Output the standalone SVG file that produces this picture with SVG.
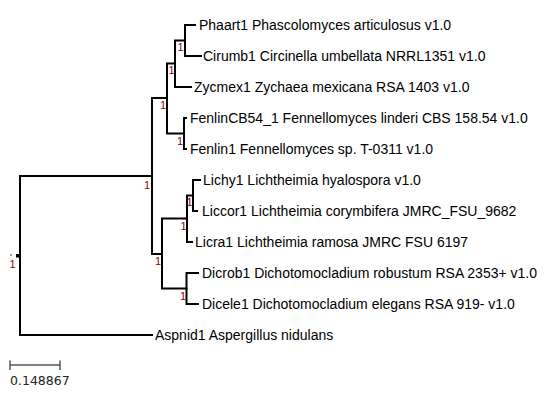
<svg xmlns="http://www.w3.org/2000/svg" width="544" height="411" viewBox="0 0 544 411">
<style>
.e{fill:none;stroke:#000;stroke-width:2;stroke-linecap:square}
.lf{font-family:"Liberation Sans",Arial,sans-serif;font-size:14px;fill:#000}
.bs{font-family:"Liberation Sans",Arial,sans-serif;font-size:11px;fill:#8b0000;text-anchor:end}
.sc{font-family:"DejaVu Sans",sans-serif;font-size:12.5px;fill:#222}
</style>
<rect width="544" height="411" fill="#fff"/>
<g id="connectors">
<path class="e" d="M20,176V335M20,176H152M20,335H152"/>
<path class="e" d="M152,98V254M152,98H167M152,254H162"/>
<path class="e" d="M167,63.5V133.5M167,63.5H175M167,133.5H184"/>
<path class="e" d="M175,40.5V87M175,40.5H185M175,87H191"/>
<path class="e" d="M185,25V56M185,25H195M185,56H201"/>
<path class="e" d="M184,118V149M184,118H186M184,149H186"/>
<path class="e" d="M162,218.5V288.5M162,218.5H187M162,288.5H186.5"/>
<path class="e" d="M187,195.5V242M187,195.5H193M187,242H192"/>
<path class="e" d="M193,180V211M193,180H200M193,211H197"/>
<path class="e" d="M186.5,273V304M186.5,273H198M186.5,304H198"/>
</g>
<g id="root">
<rect x="10" y="254" width="2" height="2" fill="#999"/>
<rect x="16" y="254" width="3.5" height="3.5" fill="#000"/>
<text class="bs" x="15.5" y="268">1</text>
</g>
<g id="n_all"><text class="bs" x="150" y="189">1</text></g>
<g id="n_top"><text class="bs" x="166" y="109">1</text></g>
<g id="n_zyc"><text class="bs" x="174.5" y="74">1</text></g>
<g id="n_phci"><text class="bs" x="183.5" y="51">1</text></g>
<g id="n_fen"><text class="bs" x="183" y="145">1</text></g>
<g id="n_bot"><text class="bs" x="161" y="264.5">1</text></g>
<g id="n_lic"><text class="bs" x="186.5" y="229.5">1</text></g>
<g id="n_lhc"><text class="bs" x="192.5" y="205.5">1</text></g>
<g id="n_dic"><text class="bs" x="186" y="300">1</text></g>
<g id="leaf_phaart"><text class="lf" x="199" y="30">Phaart1 Phascolomyces articulosus v1.0</text></g>
<g id="leaf_cirumb"><text class="lf" x="203" y="61">Cirumb1 Circinella umbellata NRRL1351 v1.0</text></g>
<g id="leaf_zycmex"><text class="lf" x="194" y="92">Zycmex1 Zychaea mexicana RSA 1403 v1.0</text></g>
<g id="leaf_fenlincb54"><text class="lf" x="190" y="123">FenlinCB54_1 Fennellomyces linderi CBS 158.54 v1.0</text></g>
<g id="leaf_fenlin1"><text class="lf" x="190" y="154">Fenlin1 Fennellomyces sp. T-0311 v1.0</text></g>
<g id="leaf_lichy"><text class="lf" x="203" y="185">Lichy1 Lichtheimia hyalospora v1.0</text></g>
<g id="leaf_liccor"><text class="lf" x="202" y="216">Liccor1 Lichtheimia corymbifera JMRC_FSU_9682</text></g>
<g id="leaf_licra"><text class="lf" x="195" y="247">Licra1 Lichtheimia ramosa JMRC FSU 6197</text></g>
<g id="leaf_dicrob"><text class="lf" x="202" y="278">Dicrob1 Dichotomocladium robustum RSA 2353+ v1.0</text></g>
<g id="leaf_dicele"><text class="lf" x="202" y="309">Dicele1 Dichotomocladium elegans RSA 919- v1.0</text></g>
<g id="leaf_aspnid"><text class="lf" x="155" y="340">Aspnid1 Aspergillus nidulans</text></g>
<g id="scale">
<path d="M10,365H60M10,360.5V370M60,360.5V370" fill="none" stroke="#555" stroke-width="1.5"/>
<text class="sc" x="10" y="385">0.148867</text>
</g>
</svg>
